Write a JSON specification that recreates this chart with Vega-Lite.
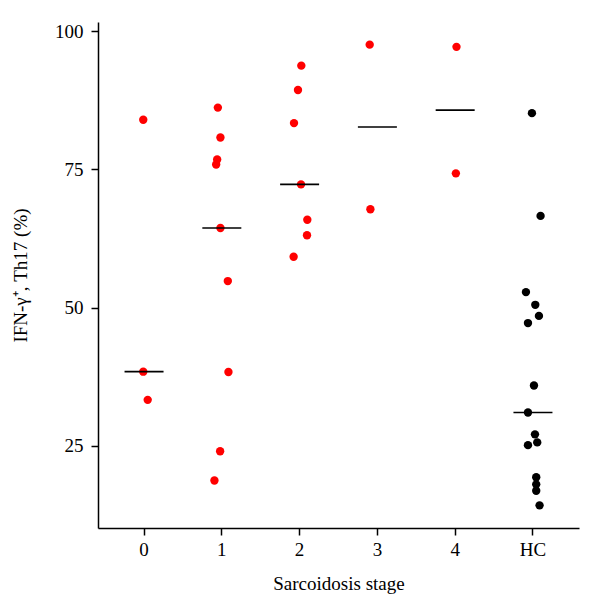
{
  "$schema": "https://vega.github.io/schema/vega-lite/v6.json",
  "autosize": "none",
  "width": 481,
  "height": 506,
  "padding": {"left": 98, "top": 22, "right": 21, "bottom": 88},
  "background": "white",
  "config": {
    "view": {"stroke": null},
    "font": "Liberation Serif",
    "axis": {
      "domainColor": "#000000",
      "domainWidth": 1.5,
      "tickColor": "#000000",
      "tickWidth": 1.5,
      "tickSize": 7,
      "grid": false,
      "labelFont": "Liberation Serif",
      "labelFontSize": 19,
      "labelColor": "#000000",
      "titleFont": "Liberation Serif",
      "titleFontSize": 19,
      "titleFontWeight": "normal",
      "titleColor": "#000000"
    }
  },
  "data": {
    "values": [
      {"stage": "0", "group": "Sarcoidosis", "value": 84.0, "jitter": -0.01},
      {"stage": "0", "group": "Sarcoidosis", "value": 38.4, "jitter": -0.01},
      {"stage": "0", "group": "Sarcoidosis", "value": 33.3, "jitter": 0.047},
      {"stage": "1", "group": "Sarcoidosis", "value": 86.2, "jitter": -0.051},
      {"stage": "1", "group": "Sarcoidosis", "value": 80.8, "jitter": -0.018},
      {"stage": "1", "group": "Sarcoidosis", "value": 76.8, "jitter": -0.06},
      {"stage": "1", "group": "Sarcoidosis", "value": 75.9, "jitter": -0.073},
      {"stage": "1", "group": "Sarcoidosis", "value": 64.4, "jitter": -0.018},
      {"stage": "1", "group": "Sarcoidosis", "value": 54.8, "jitter": 0.077},
      {"stage": "1", "group": "Sarcoidosis", "value": 38.35, "jitter": 0.085},
      {"stage": "1", "group": "Sarcoidosis", "value": 24.0, "jitter": -0.022},
      {"stage": "1", "group": "Sarcoidosis", "value": 18.7, "jitter": -0.095},
      {"stage": "2", "group": "Sarcoidosis", "value": 93.8, "jitter": 0.022},
      {"stage": "2", "group": "Sarcoidosis", "value": 89.4, "jitter": -0.021},
      {"stage": "2", "group": "Sarcoidosis", "value": 83.4, "jitter": -0.072},
      {"stage": "2", "group": "Sarcoidosis", "value": 72.3, "jitter": 0.018},
      {"stage": "2", "group": "Sarcoidosis", "value": 65.9, "jitter": 0.099},
      {"stage": "2", "group": "Sarcoidosis", "value": 63.1, "jitter": 0.095},
      {"stage": "2", "group": "Sarcoidosis", "value": 59.2, "jitter": -0.077},
      {"stage": "3", "group": "Sarcoidosis", "value": 97.6, "jitter": -0.099},
      {"stage": "3", "group": "Sarcoidosis", "value": 67.8, "jitter": -0.09},
      {"stage": "4", "group": "Sarcoidosis", "value": 97.2, "jitter": 0.017},
      {"stage": "4", "group": "Sarcoidosis", "value": 74.3, "jitter": 0.009},
      {"stage": "HC", "group": "HC", "value": 85.2, "jitter": -0.013},
      {"stage": "HC", "group": "HC", "value": 66.6, "jitter": 0.098},
      {"stage": "HC", "group": "HC", "value": 52.8, "jitter": -0.09},
      {"stage": "HC", "group": "HC", "value": 50.5, "jitter": 0.03},
      {"stage": "HC", "group": "HC", "value": 48.5, "jitter": 0.077},
      {"stage": "HC", "group": "HC", "value": 47.2, "jitter": -0.064},
      {"stage": "HC", "group": "HC", "value": 35.9, "jitter": 0.013},
      {"stage": "HC", "group": "HC", "value": 31.0, "jitter": -0.064},
      {"stage": "HC", "group": "HC", "value": 27.05, "jitter": 0.026},
      {"stage": "HC", "group": "HC", "value": 25.6, "jitter": 0.055},
      {"stage": "HC", "group": "HC", "value": 25.1, "jitter": -0.064},
      {"stage": "HC", "group": "HC", "value": 19.3, "jitter": 0.042},
      {"stage": "HC", "group": "HC", "value": 18.0, "jitter": 0.042},
      {"stage": "HC", "group": "HC", "value": 16.85, "jitter": 0.042},
      {"stage": "HC", "group": "HC", "value": 14.2, "jitter": 0.085}
    ]
  },
  "encoding": {
    "x": {
      "field": "stage",
      "type": "nominal",
      "scale": {"type": "band", "domain": ["0", "1", "2", "3", "4", "HC"], "paddingInner": 0, "paddingOuter": 0.092},
      "axis": {"title": "Sarcoidosis stage", "labelAngle": 0, "labelPadding": 5, "titlePadding": 15}
    }
  },
  "layer": [
    {
      "mark": {"type": "point", "filled": true, "size": 70, "opacity": 1, "shape": "circle"},
      "encoding": {
        "xOffset": {"field": "jitter", "type": "quantitative", "scale": {"domain": [-0.5, 0.5]}},
        "y": {
          "field": "value",
          "type": "quantitative",
          "scale": {"domain": [10.1, 101.7], "nice": false, "zero": false},
          "axis": {"title": "IFN-γ⁺, Th17 (%)", "values": [25, 50, 75, 100], "labelPadding": 8, "titlePadding": 24}
        },
        "color": {
          "field": "group",
          "type": "nominal",
          "scale": {"domain": ["Sarcoidosis", "HC"], "range": ["#ff0000", "#000000"]},
          "legend": null
        }
      }
    },
    {
      "mark": {"type": "tick", "orient": "horizontal", "size": 39, "thickness": 1.6, "color": "#000000", "opacity": 1},
      "encoding": {
        "y": {"field": "value", "type": "quantitative", "aggregate": "median"}
      }
    }
  ]
}
